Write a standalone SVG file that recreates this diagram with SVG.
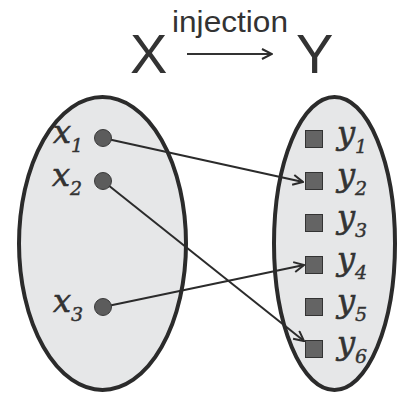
<svg xmlns="http://www.w3.org/2000/svg" width="406" height="394" viewBox="0 0 406 394">
<defs>
<marker id="arr" viewBox="0 0 12 12" refX="11" refY="6" markerWidth="12" markerHeight="12" markerUnits="userSpaceOnUse" orient="auto">
<path d="M1,1 L11,6 L1,11" fill="none" stroke="#2b2b2b" stroke-width="2"/>
</marker>
</defs>
<style>
.set{fill:#e6e7e8;stroke:#2b2b2b;stroke-width:4}
.dot{fill:#5c5c5c;stroke:#3a3a3a;stroke-width:1}
.sq{fill:#646464;stroke:#333;stroke-width:1}
.lbl{font-family:"DejaVu Serif","Liberation Serif",serif;font-style:italic;font-size:32px;fill:#333;stroke:#333;stroke-width:0.6}
.sub{font-size:19px;stroke-width:0.4}
.title{font-family:"Liberation Sans",Arial,sans-serif;fill:#333}
.edge{fill:none;stroke:#2b2b2b;stroke-width:2;marker-end:url(#arr)}
</style>
<g id="title">
<text class="title" x="130" y="73" font-size="56">X</text>
<text class="title" x="296" y="73" font-size="56">Y</text>
<text class="title" x="172" y="32" font-size="29" textLength="116" lengthAdjust="spacingAndGlyphs">injection</text>
<line x1="187" y1="54" x2="272" y2="54" stroke="#333" stroke-width="2.2" marker-end="url(#arr)"/>
</g>
<g id="setX"><ellipse class="set" cx="102.5" cy="243.5" rx="83.5" ry="146.5"/></g>
<g id="setY"><ellipse class="set" cx="334.5" cy="243.5" rx="60.5" ry="146.5"/></g>
<g id="connectors">
<line class="edge" x1="103" y1="138" x2="303" y2="182"/>
<line class="edge" x1="103" y1="181" x2="304" y2="341"/>
<line class="edge" x1="103" y1="307" x2="304" y2="265"/>
</g>
<g id="x1"><circle class="dot" cx="103" cy="138" r="8.5"/><text class="lbl" x="53" y="143">x<tspan class="sub" dy="9">1</tspan></text></g>
<g id="x2"><circle class="dot" cx="103" cy="181" r="8.5"/><text class="lbl" x="52" y="186">x<tspan class="sub" dy="9">2</tspan></text></g>
<g id="x3"><circle class="dot" cx="103" cy="307" r="8.5"/><text class="lbl" x="53" y="312">x<tspan class="sub" dy="9">3</tspan></text></g>
<g id="y1"><rect class="sq" x="305.5" y="130.5" width="17" height="17"/><text class="lbl" x="337" y="144">y<tspan class="sub" dy="9">1</tspan></text></g>
<g id="y2"><rect class="sq" x="305.5" y="172.5" width="17" height="17"/><text class="lbl" x="337" y="186">y<tspan class="sub" dy="9">2</tspan></text></g>
<g id="y3"><rect class="sq" x="305.5" y="214.5" width="17" height="17"/><text class="lbl" x="337" y="228">y<tspan class="sub" dy="9">3</tspan></text></g>
<g id="y4"><rect class="sq" x="305.5" y="256.5" width="17" height="17"/><text class="lbl" x="337" y="270">y<tspan class="sub" dy="9">4</tspan></text></g>
<g id="y5"><rect class="sq" x="305.5" y="298.5" width="17" height="17"/><text class="lbl" x="337" y="312">y<tspan class="sub" dy="9">5</tspan></text></g>
<g id="y6"><rect class="sq" x="305.5" y="340.5" width="17" height="17"/><text class="lbl" x="337" y="354">y<tspan class="sub" dy="9">6</tspan></text></g>
</svg>
